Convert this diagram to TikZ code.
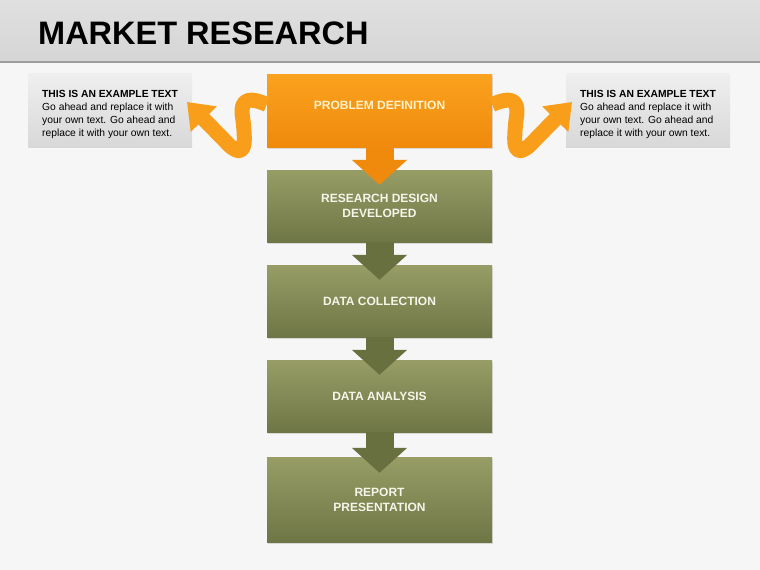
\documentclass[tikz,border=0pt]{standalone}
\usepackage{fontspec}
\setmainfont{Liberation Sans}
\usepackage{tikz}
\usepackage{xcolor}
\usetikzlibrary{arrows.meta,shadows}

\definecolor{pagebg}{HTML}{F6F6F6}
\definecolor{bandtop}{HTML}{E0E0E0}
\definecolor{bandbot}{HTML}{D5D5D5}
\definecolor{bandline}{HTML}{9C9C9C}
\definecolor{orangetop}{HTML}{FAA21E}
\definecolor{orangebot}{HTML}{F08A0C}
\definecolor{orangetext}{HTML}{FFF3CC}
\definecolor{olivetop}{HTML}{979D65}
\definecolor{olivebot}{HTML}{6F7646}
\definecolor{olivearrow}{HTML}{687040}
\definecolor{olivetext}{HTML}{F5F5EA}
\definecolor{notetop}{HTML}{EFEFEF}
\definecolor{notebot}{HTML}{D8D8D8}

\begin{document}
\begin{tikzpicture}[x=1pt, y=-1pt,
    stagebox/.style={minimum width=225pt, minimum height=72pt, inner sep=0pt,
        top color=olivetop, bottom color=olivebot, text=olivetext, align=center,
        font=\fontsize{12}{15}\selectfont\bfseries,
        drop shadow={opacity=0.25, shadow xshift=1pt, shadow yshift=-2pt}},
    probbox/.style={stagebox, top color=orangetop, bottom color=orangebot, text=orangetext},
    notebox/.style={minimum width=164pt, minimum height=74pt, inner sep=0pt,
        top color=notetop, bottom color=notebot},
    notetext/.style={align=left, inner sep=0pt, font=\fontsize{10.3}{12.7}\selectfont},
    flowarrow/.style={line width=28pt, olivearrow, -{Triangle[length=25pt,width=54pt]}},
    ribbon/.style={line width=15pt, orangetop!85!orangebot, line join=round,
        -{Triangle[length=24pt,width=35pt]}}]

    \useasboundingbox (0,0) rectangle (760,570);
    \fill[pagebg] (0,0) rectangle (760,570);

    % Title band
    \shade[top color=bandtop, bottom color=bandbot] (0,0) rectangle (760,62);
    \draw[bandline, line width=2pt] (0,62) -- (760,62);
    \node[anchor=base west, inner sep=0pt, font=\fontsize{32.5}{36}\selectfont\bfseries] (title)
        at (38,44) {MARKET RESEARCH};

    % Side notes
    \node[notebox] (lnote) at (110,110.5) {};
    \node[notetext] (ltext) at ([yshift=-4pt]lnote.center) {\textbf{THIS IS AN EXAMPLE TEXT}\\Go ahead and replace it with\\your own text. Go ahead and\\replace it with your own text.};
    \node[notebox] (rnote) at (648,110.5) {};
    \node[notetext] (rtext) at ([yshift=-4pt]rnote.center) {\textbf{THIS IS AN EXAMPLE TEXT}\\Go ahead and replace it with\\your own text. Go ahead and\\replace it with your own text.};

    % Process steps
    \node[probbox, minimum height=73pt] (prob) at (379.5,110.5) {\raisebox{1.5pt}[0pt][0pt]{PROBLEM DEFINITION}};
    \node[stagebox] (design) at (379.5,206) {RESEARCH DESIGN\\DEVELOPED};
    \node[stagebox] (collect) at (379.5,301) {DATA COLLECTION};
    \node[stagebox] (analysis) at (379.5,396) {DATA ANALYSIS};
    \node[stagebox, minimum height=85pt] (report) at (379.5,499.5) {REPORT\\PRESENTATION};

    % Arrows between steps
    \draw[flowarrow, orangebot] (prob.south) -- ([yshift=-15pt]design.north);
    \draw[flowarrow] (design.south) -- ([yshift=-15pt]collect.north);
    \draw[flowarrow] (collect.south) -- ([yshift=-15pt]analysis.north);
    \draw[flowarrow] (analysis.south) -- ([yshift=-16pt]report.north);

    % Ribbons to the notes
    \coordinate (ltip) at (187,102);
    \coordinate (rtip) at (572,102);
    \draw[ribbon] ([yshift=6pt]prob.west) .. controls (243,94) and (240,104) .. (243,120)
        .. controls (245,140) and (247,160) .. (230,146) -- (ltip);
    \draw[ribbon] ([yshift=6pt]prob.east) .. controls (516,94) and (519,104) .. (516,120)
        .. controls (514,140) and (512,160) .. (529,146) -- (rtip);
\end{tikzpicture}
\end{document}
